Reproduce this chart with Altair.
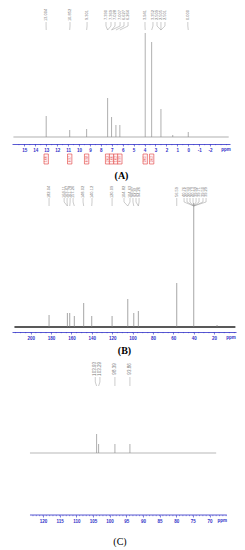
import altair as alt
import pandas as pd

BLUE = "#3030c8"
RED = "#e03c3c"

# ---------------- Panel A (1H NMR) ----------------
a_peak_ppm = [13.00, 10.85, 9.30, 7.38, 7.02, 6.62, 6.26, 3.94, 3.35, 2.50, 1.42, 0.00]
a_peak_int = [21, 7, 8, 39, 20, 12, 12, 104, 95, 28, 2, 5]
a_label_pos = [13.01, 10.82, 9.26, 7.53, 7.07, 6.70, 6.24, 5.88, 5.51, 3.96, 3.23, 2.86, 2.50, 2.13, 0.04]
a_label_text = ["13.004", "10.852", "9.301", "7.390", "7.369", "7.028", "7.007", "6.627", "6.264",
                "3.941", "3.352", "2.509", "2.505", "2.501", "0.000"]
a_label_target = [13.00, 10.85, 9.30, 7.38, 7.38, 7.02, 7.02, 6.62, 6.26, 3.94, 3.35, 2.50, 2.50, 2.50, 0.00]
a_int_ppm = [13.00, 10.85, 9.30, 7.38, 7.02, 6.62, 6.26, 3.94, 3.35]
a_int_text = ["1.00", "0.97", "0.98", "2.03", "1.00", "1.02", "0.99", "3.05", "3.02"]
a_ticks = [15, 14, 13, 12, 11, 10, 9, 8, 7, 6, 5, 4, 3, 2, 1, 0, -1, -2]

# ---------------- Panel B (13C NMR) ----------------
b_peak_ppm = [182.0, 164.0, 161.7, 157.2, 148.0, 140.1, 120.1, 104.7, 98.8, 94.3, 56.6, 39.9, 17.0]
b_peak_int = [12, 14, 14, 11, 24, 11, 11, 28, 14, 16, 44, 124, 2]
b_label_pos = [182.0, 167.2, 164.3, 161.3, 158.4, 148.6, 139.8, 120.1, 108.4, 102.5, 99.6, 96.6, 93.6,
               56.6, 49.4, 46.5, 43.6, 40.6, 37.6, 34.7, 30.8, 27.8]
b_label_text = ["182.04", "164.11", "163.47", "161.78", "157.26", "148.02", "140.12", "120.09",
                "104.82", "104.63", "98.87", "94.41", "94.26", "56.59",
                "40.76", "40.55", "40.34", "40.13", "39.92", "39.71", "39.50", "39.29"]
b_label_target = [182.0, 164.0, 164.0, 161.7, 157.2, 148.0, 140.1, 120.1, 104.7, 104.7, 98.8, 94.3, 94.3,
                  56.6, 39.9, 39.9, 39.9, 39.9, 39.9, 39.9, 39.9, 39.9]
b_ticks = [200, 180, 160, 140, 120, 100, 80, 60, 40, 20]

# ---------------- Panel C ----------------
c_peak_ppm = [103.9, 103.3, 98.4, 93.9]
c_peak_int = [19, 9, 9, 9]
c_label_pos = [104.3, 102.9, 98.4, 93.9]
c_label_text = ["103.93", "103.29", "98.39", "93.86"]
c_label_target = [103.9, 103.3, 98.4, 93.9]
c_ticks = [120, 115, 110, 105, 100, 95, 90, 85, 80, 75, 70]


def panel(peak_ppm, peak_int, lab_pos, lab_text, lab_tgt, ticks, minor, xdom, width, height, ydom,
          base_range, title, title_pad, title_weight, lab_y, stem_top, stem_bot, diag_end,
          ppm_pos, label_fs, peak_color, base_color, base_w, show_domain=True, extra=None):
    xs = alt.Scale(domain=xdom, reverse=True, nice=False, zero=False)
    ys = alt.Scale(domain=ydom, nice=False, zero=False)
    ax = alt.Axis(values=ticks, title=title, titlePadding=title_pad, titleFontWeight=title_weight,
                  domain=show_domain, labelFlush=False, labelOverlap=False,
                  labelExpr="'' + datum.value")

    def X(f):
        return alt.X(f, type="quantitative", scale=xs, axis=ax)

    def Y(f):
        return alt.Y(f, type="quantitative", scale=ys, axis=None)

    base = alt.Chart(pd.DataFrame({"x": [base_range[0]], "x2": [base_range[1]], "y": [0]})).mark_rule(
        color=base_color, strokeWidth=base_w).encode(x=X("x"), x2="x2", y=Y("y"))
    peaks = alt.Chart(pd.DataFrame({"ppm": peak_ppm, "h": peak_int, "z": [0] * len(peak_ppm)})).mark_rule(
        color=peak_color, strokeWidth=0.7).encode(x=X("ppm"), y=Y("z"), y2="h")
    ldf = pd.DataFrame({"pos": lab_pos, "text": lab_text, "tgt": lab_tgt,
                        "ly": [lab_y] * len(lab_pos), "st": [stem_top] * len(lab_pos),
                        "sb": [stem_bot] * len(lab_pos), "de": [diag_end] * len(lab_pos)})
    labels = alt.Chart(ldf).mark_text(angle=270, fontSize=label_fs, color="#777777",
                                      font="Liberation Sans").encode(x=X("pos"), y=Y("ly"), text="text")
    stems = alt.Chart(ldf).mark_rule(color="#999999", strokeWidth=0.5).encode(x=X("pos"), y=Y("st"), y2="sb")
    diags = alt.Chart(ldf).mark_rule(color="#999999", strokeWidth=0.5).encode(
        x=X("pos"), y=Y("sb"), x2="tgt", y2="de")
    mdf = pd.DataFrame({"m": minor})
    mdf["y1"] = ydom[0]
    mdf["y2"] = ydom[0] - 1.2
    minor_ticks = alt.Chart(mdf).mark_rule(color=BLUE, strokeWidth=0.5).encode(
        x=X("m"), y=Y("y1"), y2="y2")
    ppm = alt.Chart(pd.DataFrame({"x": [ppm_pos], "y": [ydom[0] - 6], "t": ["ppm"]})).mark_text(
        color=BLUE, fontSize=4.5, fontWeight="bold", font="Liberation Sans").encode(
        x=X("x"), y=Y("y"), text="t")
    layers = [base, peaks, labels, stems, diags, minor_ticks, ppm]
    if extra:
        layers += extra(X, Y)
    return alt.layer(*layers).properties(width=width, height=height)


def a_extra(X, Y):
    idf = pd.DataFrame({"ppm": a_int_ppm, "t": a_int_text})
    idf["x1"] = idf["ppm"] + 0.2
    idf["x2"] = idf["ppm"] - 0.2
    idf["y1"] = -17
    idf["y2"] = -27
    idf["yc"] = -22
    boxes = alt.Chart(idf).mark_rect(fill="#fff4f4", stroke=RED, strokeWidth=0.6).encode(
        x=X("x1"), x2="x2", y=Y("y1"), y2="y2")
    txt = alt.Chart(idf).mark_text(angle=270, fontSize=3, color=RED, font="Liberation Sans").encode(
        x=X("ppm"), y=Y("yc"), text="t")
    return [boxes, txt]


def c_extra(X, Y):
    adf = pd.DataFrame({"x": [123.9], "x2": [64.8], "y": [-62]})
    line = alt.Chart(adf).mark_rule(color=BLUE, strokeWidth=0.8).encode(x=X("x"), x2="x2", y=Y("y"))
    return [line]


a_minor = [v / 2 for v in range(-7, 32)]
b_minor = [v * 5 for v in range(0, 44)]
c_minor = [v for v in range(65, 124)]

pA = panel(a_peak_ppm, a_peak_int, a_label_pos, a_label_text, a_label_target, a_ticks, a_minor,
           [-3.82, 16.13], 218, 135, [-7, 128], [16.0, -3.7], "(A)", 19, "bold",
           122, 115, 111, 107, -3.45, 4, "#8c8c8c", "#8c8c8c", 0.7, extra=a_extra)
pB = panel(b_peak_ppm, b_peak_int, b_label_pos, b_label_text, b_label_target, b_ticks, b_minor,
           [-1.6, 218.4], 224, 148, [-5, 143], [216.0, -1.0], "(B)", 6, "bold",
           135, 129, 125, 121, 3.3, 4, "#808080", "#222222", 1.4)
pC = panel(c_peak_ppm, c_peak_int, c_label_pos, c_label_text, c_label_target, c_ticks, c_minor,
           [64.75, 129.3], 215, 156, [-62, 94], [123.9, 68.0], "(C)", 14, "normal",
           84, 76, 71, 67, 66.2, 4.5, "#8c8c8c", "#9a9a9a", 0.7, show_domain=False, extra=c_extra)

chart = alt.vconcat(pA, pB, pC, spacing=3).properties(
    padding={"left": 4, "top": 0, "right": 0, "bottom": 0}
).configure_view(strokeWidth=0).configure_axis(
    domainColor=BLUE, domainWidth=0.8, tickColor=BLUE, tickSize=2, tickWidth=0.6,
    labelColor=BLUE, labelFontSize=4.5, labelFont="Liberation Sans", labelFontWeight="bold",
    labelPadding=1, grid=False, titleFont="Liberation Serif", titleFontSize=10, titleColor="black"
)

chart.save("out.html", embed_options={"renderer": "svg", "actions": False})
